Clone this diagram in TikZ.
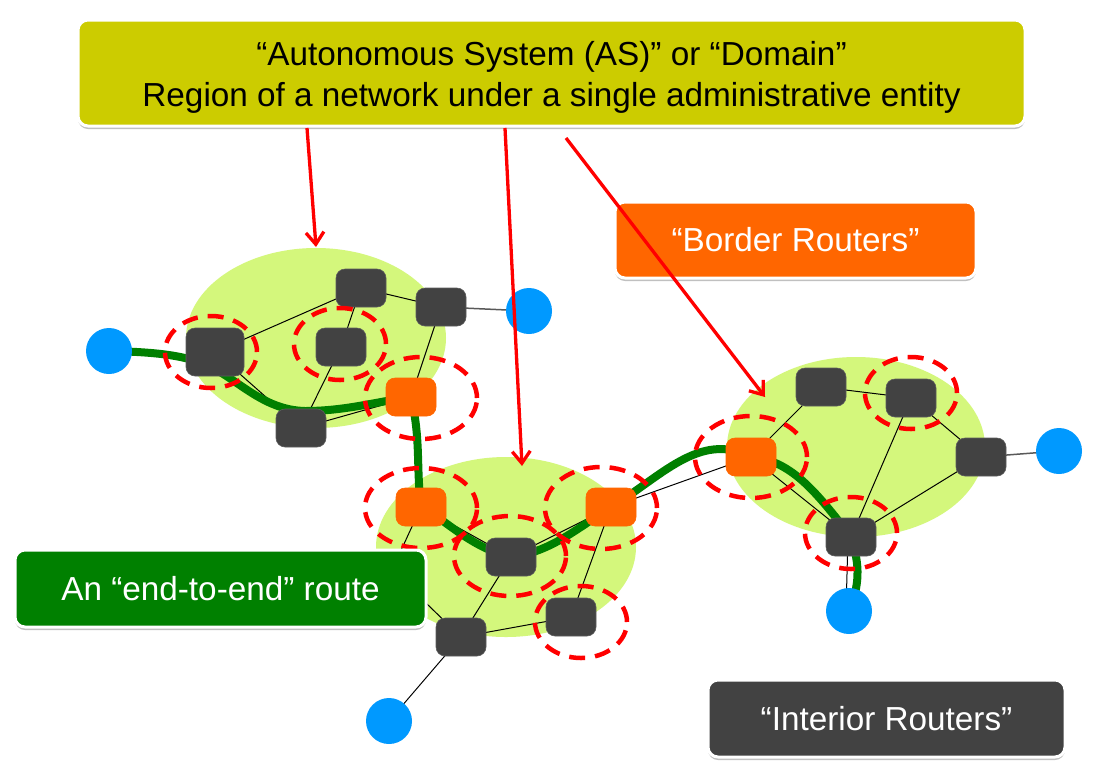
\documentclass[tikz,border=0pt]{standalone}
\usepackage{fontspec}
\setmainfont{Liberation Sans}
\usetikzlibrary{arrows.meta,shadows,shapes.geometric}
\definecolor{bannerfill}{HTML}{CCCC00}
\definecolor{brorange}{HTML}{FF6600}
\definecolor{lblgreen}{HTML}{008000}
\definecolor{rtgray}{HTML}{424242}
\definecolor{hostblue}{HTML}{0099FF}
\definecolor{asgreen}{HTML}{D4F77C}
\pgfdeclarelayer{bg}
\pgfdeclarelayer{mid}
\pgfsetlayers{bg,mid,main}
\tikzset{
  asfill/.style={ellipse, fill=asgreen, inner sep=0pt},
  rt/.style={rectangle, rounded corners=9pt, fill=rtgray, draw=rtgray!85!white, line width=0.6pt, minimum width=50pt, minimum height=38pt, inner sep=0pt},
  br/.style={rt, fill=brorange, draw=brorange},
  host/.style={circle, fill=hostblue, minimum size=46pt, inner sep=0pt},
  link/.style={black, line width=1pt},
  glink/.style={black!65, line width=1.5pt},
  route/.style={lblgreen, line width=8pt, line join=round},
  ring/.style={red, line width=4.5pt, dash pattern=on 16pt off 10pt},
  redarrow/.style={red, line width=3.3pt, -{Straight Barb[length=12pt,width=18pt]}},
  lblfont/.style={font=\fontsize{33.3}{41}\selectfont},
  lbl/.style={rectangle, rounded corners=10pt, draw=white, line width=3pt, inner sep=0pt, align=center, lblfont,
    drop shadow={shadow xshift=0pt, shadow yshift=-3pt, opacity=0.35, fill=black!70}}
}
\begin{document}
\begin{tikzpicture}[x=1pt,y=-1pt]
\useasboundingbox (0,0) rectangle (1105,780);

% autonomous systems
\begin{pgfonlayer}{bg}
\fill[white] (0,0) rectangle (1105,780);
\node[asfill, minimum width=260pt, minimum height=180pt] (as1) at (316,338) {};
\node[asfill, minimum width=260pt, minimum height=180pt] (as2) at (506,547) {};
\node[asfill, minimum width=258pt, minimum height=180pt] (as3) at (856,447) {};
\end{pgfonlayer}

% routers and hosts
\node[rt, minimum width=58pt, minimum height=48pt] (R1a) at (215,352) {};
\node[rt] (R1b) at (361,288) {};
\node[rt] (R1c) at (441,307) {};
\node[rt] (R1d) at (341,347) {};
\node[rt] (R1e) at (301,428) {};
\node[br] (B1) at (411,397) {};
\node[host] (H1) at (109,351) {};
\node[host] (H2) at (529,311) {};

\node[br] (B2) at (421,507) {};
\node[br] (B3) at (611,507) {};
\node[rt] (R2a) at (511,557) {};
\node[rt] (R2b) at (571,617) {};
\node[rt] (R2c) at (461,637) {};
\node[host] (H3) at (389,721) {};
\coordinate (X) at (392,570);

\node[br] (B4) at (751,457) {};
\node[rt] (R3a) at (821,387) {};
\node[rt] (R3b) at (911,398) {};
\node[rt] (R3c) at (981,457) {};
\node[rt] (R3d) at (851,537) {};
\node[host] (H4) at (1059,451) {};
\node[host] (H5) at (849,611) {};

\begin{pgfonlayer}{mid}
\draw[link] (R1a.center) -- (R1b.center);
\draw[link] (R1b.center) -- (R1c.center);
\draw[link] (R1b.center) -- (R1d.center);
\draw[link] (R1d.center) -- (R1e.center);
\draw[link] (R1a.center) -- (R1e.center);
\draw[link] (R1c.center) -- (B1.center);
\draw[link] (R1e.center) -- (B1.center);
\draw[glink] (R1c.center) -- (H2.center);

\draw[link] (B2.center) -- (R2a.center);
\draw[link] (B3.center) -- (R2a.center);
\draw[link] (B3.center) -- (R2b.center);
\draw[link] (R2a.center) -- (R2c.center);
\draw[link] (R2c.center) -- (R2b.center);
\draw[link] (B2.center) -- (X);
\draw[link] (R2c.center) -- (X);
\draw[link] (R2c.center) -- (H3.center);
\draw[link] (B3.center) -- (B4.center);

\draw[link] (B4.center) -- (R3a.center);
\draw[link] (R3a.center) -- (R3b.center);
\draw[link] (R3b.center) -- (R3c.center);
\draw[link] (R3b.center) -- (R3d.center);
\draw[link] (R3c.center) -- (R3d.center);
\draw[link] (B4.center) -- (R3d.center);
\draw[link] ([xshift=-3pt]R3d.center) -- ([xshift=-3pt]H5.center);
\draw[glink] (R3c.center) -- (H4.center);

\draw[route] (H1.center) .. controls (160,352) and (180,356) .. (200,362)
  .. controls (235,375) and (260,410) .. (305,411)
  .. controls (345,411) and (375,402) .. (B1.center)
  .. controls (421,440) and (416,465) .. (B2.center)
  .. controls (440,515) and (470,548) .. (R2a.center)
  .. controls (550,552) and (575,530) .. (B3.center)
  .. controls (660,478) and (700,430) .. (B4.center)
  .. controls (790,460) and (815,490) .. (R3d.center)
  .. controls (858,560) and (862,580) .. (H5.center);
\end{pgfonlayer}

% dashed rings
\draw[ring] (211,352) ellipse [x radius=46pt, y radius=36pt];
\draw[ring] (340,344) ellipse [x radius=46pt, y radius=36pt];
\draw[ring] (421,398) ellipse [x radius=56pt, y radius=41pt];
\draw[ring] (421,508) ellipse [x radius=56pt, y radius=40pt];
\draw[ring] (601,508) ellipse [x radius=56pt, y radius=41pt];
\draw[ring] (510,556) ellipse [x radius=56pt, y radius=40pt];
\draw[ring] (581,622) ellipse [x radius=46pt, y radius=36pt];
\draw[ring] (751,457) ellipse [x radius=56pt, y radius=41pt];
\draw[ring] (911,393) ellipse [x radius=46pt, y radius=36pt];
\draw[ring] (851,533) ellipse [x radius=46pt, y radius=36pt];

% labels
\node[lbl, fill=bannerfill, minimum width=947pt, minimum height=106pt] (banner) at (551.5,73) {};
\node[lblfont, align=center, text=black, inner sep=0pt] (bannertext) at (551.5,77)
  {“Autonomous System (AS)” or “Domain”\\Region of a network under a single administrative entity};
\node[lbl, fill=brorange, text=white, minimum width=361pt, minimum height=76pt] (border) at (795.5,240) {“Border Routers”};
\node[lbl, fill=lblgreen, text=white, minimum width=411pt, minimum height=77pt] (e2e) at (220.5,588.5) {An “end-to-end” route};
\node[lbl, fill=rtgray, text=white, minimum width=357pt, minimum height=77pt] (interior) at (886.5,718.5) {“Interior Routers”};

% red arrows
\coordinate (a1s) at (307,128);
\coordinate (a1e) at (316,247);
\coordinate (a2s) at (505,128);
\coordinate (a2e) at (522,466);
\coordinate (a3s) at (566,138);
\coordinate (a3e) at (765,397);
\draw[redarrow] (a1s) -- (a1e);
\draw[redarrow] (a2s) -- (a2e);
\draw[redarrow] (a3s) -- (a3e);
\end{tikzpicture}
\end{document}
